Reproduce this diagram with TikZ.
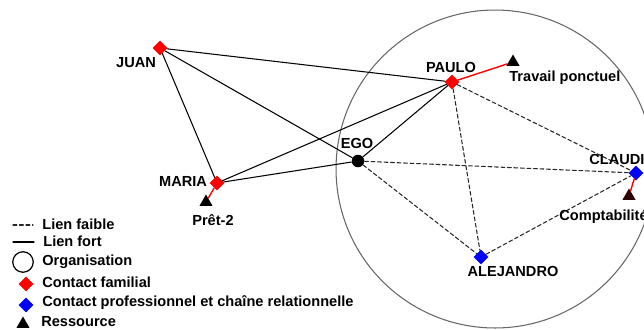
\documentclass[tikz,border=0pt]{standalone}
\usepackage{fontspec}
\setmainfont{Liberation Sans}
\usetikzlibrary{shapes.geometric}
\definecolor{brunfonce}{RGB}{45,0,0}
\tikzset{
  famille/.style={diamond,fill=red,inner sep=0pt,minimum size=0.3cm},
  pro/.style={diamond,fill=blue,inner sep=0pt,minimum size=0.3cm},
  ressource/.style={regular polygon,regular polygon sides=3,fill=black,inner sep=0pt,minimum size=0.3cm},
  etiq/.style={font=\bfseries\fontsize{8.3}{9}\selectfont,inner sep=0pt},
  fort/.style={line width=0.6pt},
  faible/.style={line width=0.6pt,black!85,dash pattern=on 2.2pt off 1.5pt},
  lienres/.style={line width=0.8pt,red}
}
\begin{document}
\begin{tikzpicture}[x=0.02cm,y=-0.02cm,line cap=round,line join=round]
  \useasboundingbox (0,0) rectangle (644,329);
  % organisation
  \node[draw=black!60,line width=0.6pt,circle,minimum size=6.36cm,inner sep=0pt] (orga) at (495,169) {};
  % acteurs
  \node[famille] (juan) at (160,48) {};
  \node[famille] (paulo) at (452,82) {};
  \node[famille] (maria) at (217,183) {};
  \node[circle,fill=black,inner sep=0pt,minimum size=0.25cm] (ego) at (358,161) {};
  \node[pro] (claudi) at (636,173) {};
  \node[pro] (alejandro) at (481,257) {};
  % ressources
  \node[ressource] (travail) at (513,62) {};
  \node[ressource] (pret) at (206,202) {};
  \node[ressource,fill=brunfonce] (compta) at (629,196) {};
  % liens forts
  \draw[fort] (juan) -- (paulo);
  \draw[fort] (juan) -- (ego);
  \draw[fort] (juan) -- (maria);
  \draw[fort] (maria) -- (paulo);
  \draw[fort] (maria) -- (ego);
  \draw[fort] (ego) -- (paulo);
  % liens faibles
  \draw[faible] (paulo) -- (claudi);
  \draw[faible] (paulo) -- (alejandro);
  \draw[faible] (ego) -- (claudi);
  \draw[faible] (ego) -- (alejandro);
  \draw[faible] (alejandro) -- (claudi);
  % ressources
  \draw[lienres] (paulo) -- (travail);
  \draw[lienres] (maria) -- (pret);
  \draw[lienres] (claudi) -- (compta);
  % etiquettes
  \node[etiq] (tjuan) at (136,63) {JUAN};
  \node[etiq] (tpaulo) at (451,67) {PAULO};
  \node[etiq,anchor=west] (ttravail) at (509,78) {Travail ponctuel};
  \node[etiq] (tego) at (357,143) {EGO};
  \node[etiq] (tmaria) at (183,181) {MARIA};
  \node[etiq] (tpret) at (213,220) {Prêt-2};
  \node[etiq,anchor=west] (tclaudi) at (589,159) {CLAUDI};
  \node[etiq,anchor=west] (tcompta) at (559,217) {Comptabilité};
  \node[etiq] (talejandro) at (513,271) {ALEJANDRO};
  % legende
  \coordinate (fa1) at (13,225);
  \coordinate (fa2) at (33,225);
  \coordinate (fo1) at (13,242);
  \coordinate (fo2) at (34,242);
  \draw[faible] (fa1) -- (fa2);
  \draw[fort] (fo1) -- (fo2);
  \node[draw,line width=0.7pt,circle,minimum size=0.41cm,inner sep=0pt] (lorga) at (23,262) {};
  \node[famille] (lfam) at (26,284) {};
  \node[pro] (lpro) at (26,305) {};
  \node[ressource] (lres) at (23,324) {};
  \node[etiq,anchor=west] (tfa) at (42,224) {Lien faible};
  \node[etiq,anchor=west] (tfo) at (43,241) {Lien fort};
  \node[etiq,anchor=west] (torga) at (42,262) {Organisation};
  \node[etiq,anchor=west] (tfam) at (42,282) {Contact familial};
  \node[etiq,anchor=west] (tpro) at (42,303) {Contact professionnel et chaîne relationnelle};
  \node[etiq,anchor=west] (tres) at (41,322) {Ressource};
\end{tikzpicture}
\end{document}
